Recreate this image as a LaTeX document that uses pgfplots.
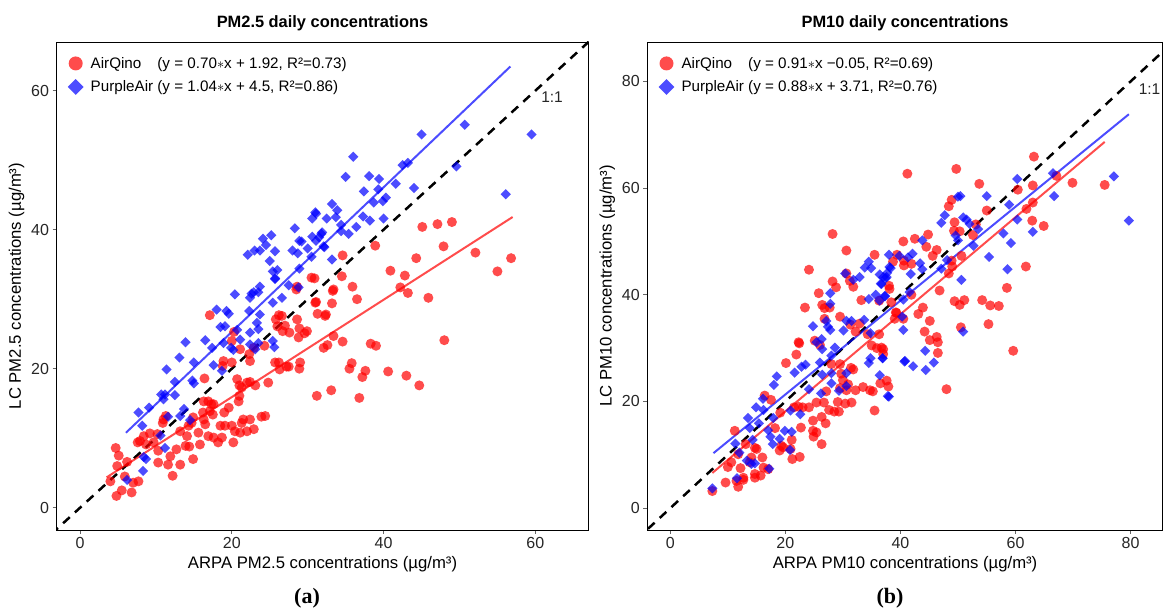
\documentclass[border=0pt]{standalone}
\usepackage{fontspec}
\setmainfont{Liberation Sans}
\newfontfamily\serifbf{Liberation Serif}
\usepackage{pgfplots}
\pgfplotsset{compat=1.18}

\pgfplotsset{
  lcaxis/.style={
    scale only axis, clip=true,
    axis line style={black, line width=0.8pt},
    tick align=outside, tick pos=left, major tick length=4pt,
    tick style={black!60, line width=0.8pt},
    /pgf/number format/assume math mode=true,
    ticklabel style={font=\fontsize{16}{19}\selectfont, text=black!85},
    label style={font=\fontsize{16.7}{20}\selectfont},
    xlabel style={yshift=-1pt},
    title style={font=\bfseries\fontsize{16.4}{20}\selectfont, yshift=2pt},
    legend style={at={(0,1)}, anchor=north west, draw=none, fill=none,
      font=\fontsize{15.2}{18}\selectfont, row sep=7pt, xshift=5pt, yshift=-11pt},
    legend cell align=left,
    legend image code/.code={
      \path[draw=none, fill=none] (0pt,-6pt) rectangle (24pt,6pt);
      \draw[##1] plot coordinates {(11pt,0pt)};},
  },
  aq/.style={only marks, mark=*, mark size=5pt,
    mark options={draw opacity=0, fill=red, fill opacity=0.7},
    legend image post style={mark size=7pt}},
  pa/.style={only marks, mark=square*, mark size=3.6pt,
    mark options={draw opacity=0, fill=blue, fill opacity=0.7, rotate=45},
    legend image post style={mark size=5.6pt}},
  aqline/.style={red, draw opacity=0.7, line width=2pt, forget plot},
  paline/.style={blue, draw opacity=0.7, line width=2pt, forget plot},
  oneline/.style={black, line width=2.5pt, dash pattern=on 9pt off 7pt, forget plot},
}

\begin{document}
\begin{tikzpicture}
\useasboundingbox (0,0) rectangle (1166pt,612pt);

% ---------- (a) PM2.5 ----------
\begin{axis}[lcaxis,
  at={(56.5pt,82pt)}, anchor=south west,
  width=532pt, height=488pt,
  xmin=-3.1, xmax=67, ymin=-3.2, ymax=67,
  xtick={0,20,40,60}, ytick={0,20,40,60},
  title={PM2.5 daily concentrations},
  xlabel={ARPA PM2.5 concentrations (µg/m³)},
  ylabel={LC PM2.5 concentrations (µg/m³)},
]
\addplot[oneline] coordinates {(-10,-10) (80,80)};
\addplot[aq] coordinates {
(4.7,8.6)(5.1,7.5)(4.9,6.0)(4.0,3.8)(4.8,1.7)(5.5,2.5)(5.9,4.5)(6.2,6.6)(6.8,2.2)(7.0,3.6)
(7.7,3.8)(7.9,9.6)(7.6,9.4)(8.4,10.3)(8.7,9.1)(9.7,9.4)(9.2,10.7)(10.3,6.5)(10.3,8.2)(10.9,12.2)
(11.0,12.7)(11.6,6.2)(12.2,4.6)(12.7,8.4)(11.9,7.4)(13.2,6.2)(13.9,8.9)(14.4,8.8)(14.9,7.0)(14.1,10.3)
(14.3,11.8)(14.7,12.2)(14.9,13.0)(15.6,10.8)(15.8,9.1)(16.3,12.7)(16.2,13.7)(16.5,12.0)(16.9,15.3)(17.3,14.9)
(17.1,13.9)(16.3,15.3)(17.6,14.9)(17.5,13.4)(16.9,10.3)(17.6,10.1)(18.2,9.4)(18.7,10.1)(18.5,11.8)(19.1,11.8)
(19.0,13.7)(19.6,14.4)(20.0,11.8)(20.2,9.4)(20.4,11.0)(21.1,10.8)(21.5,12.7)(20.9,15.3)(21.0,16.1)(21.3,12.2)
(22.0,11.0)(22.4,12.7)(22.9,11.3)(23.9,13.1)(20.7,18.5)(21.0,17.6)(21.3,17.3)(22.0,18.0)(22.4,18.1)(23.1,17.6)
(16.4,18.6)(17.1,27.7)(18.9,21.1)(18.8,20.4)(20.0,20.9)(20.0,24.0)(20.3,25.3)(21.1,22.8)(22.4,21.1)(22.3,22.1)
(22.9,23.0)(24.3,23.3)(24.8,18.0)(25.8,27.1)(26.2,27.7)(26.6,27.6)(26.0,26.1)(27.0,26.2)(26.7,25.4)(27.6,25.2)
(28.6,27.1)(28.8,24.5)(29.9,25.4)(31.1,29.6)(31.3,27.9)(32.4,27.8)(32.6,23.4)(33.4,24.7)(26.2,20.9)(26.3,19.9)
(25.7,20.9)(27.2,20.3)(27.5,20.3)(29.0,20.9)(31.2,16.1)(33.1,16.9)(24.4,13.2)(28.6,31.8)(33.4,31.4)(11.3,13.2)
(10.2,10.6)(13.2,11.0)(30.5,33.1)(30.9,33.0)(28.5,31.4)(33.3,31.2)
(45.1,40.4)(47.1,40.8)(49.0,41.1)(38.9,37.7)(47.9,37.6)(52.1,36.7)(56.8,35.9)(55.0,34.0)(34.6,36.3)(44.3,35.9)
(40.9,34.1)(42.8,33.4)(34.5,33.3)(35.9,31.8)(42.2,31.7)(43.2,30.9)(45.9,30.2)(36.5,30.0)(31.0,29.5)(33.2,29.4)
(32.3,27.6)(29.6,25.1)(28.9,25.8)(28.9,20.0)(32.1,23.0)(34.6,23.9)(38.3,23.6)(39.0,23.3)(48.0,24.1)(35.8,20.8)
(35.5,20.0)(37.6,19.7)(37.2,18.8)(40.6,19.6)(43.0,19.0)(44.7,17.6)(36.8,15.8)
};
\addlegendentry{\rlap{AirQino}\phantom{PurpleAir} (y = 0.70$\ast$x + 1.92, R²=0.73)}
\addplot[pa] coordinates {
(6.2,4.0)(8.3,5.3)(8.7,7.0)(8.4,7.3)(11.2,8.6)(10.6,10.4)(11.6,13.1)(13.2,13.2)(13.7,14.2)(14.5,12.6)
(8.2,11.8)(7.7,13.7)(9.1,14.4)(10.7,16.3)(11.2,16.3)(12.5,16.2)(11.0,15.6)(12.5,18.1)(11.4,19.9)(13.1,21.6)
(13.9,23.8)(15.0,20.9)(14.8,18.3)(15.0,17.9)(16.5,24.1)(17.4,23.0)(17.6,20.5)(18.0,28.5)(18.5,26.0)(18.7,19.7)
(18.9,23.7)(19.1,26.1)(19.3,28.3)(19.6,27.9)(19.9,23.0)(20.2,22.7)(20.4,30.7)(20.7,25.6)(21.1,24.2)(22.3,28.3)
(22.4,30.2)(22.6,30.8)(22.9,31.0)(23.5,31.0)(23.7,31.8)(23.3,26.6)(23.5,25.7)(23.7,27.8)(22.4,25.2)(22.4,23.5)
(23.1,22.8)(23.5,23.7)(25.4,29.5)(25.4,24.0)(25.6,23.1)(26.6,30.2)(27.5,32.0)(28.8,31.7)(25.7,32.9)
(22.1,36.4)(23.0,37.0)(23.7,37.0)(24.1,38.7)(24.5,37.8)(25.2,39.2)(25.0,35.5)(25.7,36.9)(25.4,34.0)(26.0,34.2)
(25.7,33.0)(28.0,37.0)(28.3,40.2)(28.7,36.6)(28.9,38.4)(28.9,34.4)(30.0,37.3)(30.5,36.1)(30.6,39.0)(30.6,41.6)
(31.1,42.3)(31.1,38.4)(31.8,39.4)(32.2,37.5)(32.5,41.6)(33.2,43.7)(33.2,35.7)(33.7,41.8)(33.9,42.8)
(36.0,50.5)(35.0,47.6)(38.1,47.7)(39.4,47.3)(42.5,49.3)(43.2,49.6)(41.6,46.6)(44.0,46.0)(39.3,45.8)(37.4,45.5)
(40.3,44.6)(39.9,44.1)(38.7,43.9)(31.0,42.5)(37.3,41.9)(38.2,41.3)(40.0,41.6)(34.4,40.7)(36.4,40.4)(34.4,39.8)
(35.4,39.4)(31.5,38.9)(31.9,39.6)(32.1,37.6)(29.2,38.3)(49.6,49.1)(56.1,45.1)(45.0,53.7)(50.7,55.1)(59.5,53.7)
};
\addlegendentry{PurpleAir (y = 1.04$\ast$x + 4.5, R²=0.86)}
\addplot[aqline] coordinates {(3.5,4.37) (57,41.82)};
\addplot[paline] coordinates {(6.05,10.79) (56.7,63.47)};
\node[font=\fontsize{15.5}{18}\selectfont, text=black!85] at (axis cs:62.2,59.1) {1:1};
\end{axis}
\node[font=\serifbf\bfseries\fontsize{22}{26}\selectfont] at (307pt,14pt) {(a)};

% ---------- (b) PM10 ----------
\begin{axis}[lcaxis,
  at={(647.3pt,82pt)}, anchor=south west,
  width=515.5pt, height=488pt,
  xmin=-4.0, xmax=85.6, ymin=-4.1, ymax=87.4,
  xtick={0,20,40,60,80}, ytick={0,20,40,60,80},
  title={PM10 daily concentrations},
  xlabel={ARPA PM10 concentrations (µg/m³)},
  ylabel={LC PM10 concentrations (µg/m³)},
]
\addplot[oneline] coordinates {(-10,-10) (100,100)};
\addplot[aq] coordinates {
(41.2,62.7)(28.2,51.4)(30.6,48.3)(24.1,44.7)(40.5,50.0)(35.5,47.5)(39.4,47.5)(38.7,46.2)(40.6,45.5)(30.6,44.0)
(28.2,42.5)(28.8,41.4)(31.2,42.6)(31.8,41.5)(25.8,40.3)(26.4,38.1)(26.8,37.5)(23.4,37.6)(27.7,37.6)(33.2,39.0)
(38.0,41.7)(38.1,41.1)(36.3,38.9)(38.4,38.6)(39.3,36.6)(40.5,35.5)(39.0,35.5)(29.5,35.9)(31.3,34.4)(32.2,33.1)
(32.9,34.6)(26.8,35.5)(25.1,31.4)(22.3,31.1)(36.3,32.6)(35.0,30.5)(36.7,30.1)
(7.3,3.2)(9.6,4.8)(11.8,4.0)(11.5,5.1)(10.0,7.7)(10.6,8.6)(12.2,7.5)(12.7,5.7)(11.8,10.1)(13.1,12.0)
(11.2,14.5)(14.7,11.3)(15.0,11.1)(14.1,9.5)(13.8,8.6)(14.7,6.4)(15.7,6.1)(14.7,5.7)(12.7,5.3)(16.0,9.5)
(16.2,7.6)(17.0,7.3)(18.2,15.0)(19.3,11.7)(19.6,11.4)(19.0,10.8)(21.1,12.8)(21.2,9.2)(22.5,9.6)(20.9,11.1)
(16.4,21.1)(17.5,20.3)(19.1,17.9)(20.1,27.2)(21.9,28.8)(22.4,30.9)(21.5,18.9)(22.3,19.0)(23.0,18.9)(24.1,18.9)
(22.7,15.1)(24.8,16.4)(25.4,19.8)(26.7,19.8)(26.3,17.1)(27.0,15.9)(24.8,14.5)(24.9,13.4)(25.4,14.2)(26.3,12.0)
(27.6,18.4)(28.5,18.1)(29.3,18.1)(27.1,21.9)(29.1,19.9)(30.4,19.6)(31.5,19.8)(26.0,30.6)(28.0,27.0)(29.5,27.0)
(29.7,25.2)(30.0,24.0)(29.5,22.5)(30.6,22.1)(30.9,23.2)(31.4,26.3)(31.8,26.0)(32.2,22.1)(33.5,22.7)(34.7,22.1)
(35.2,21.9)(35.9,30.0)(35.5,18.3)(36.5,23.4)(37.6,23.9)(37.9,22.8)(34.3,32.6)
(49.7,63.6)(63.2,65.9)(53.7,60.8)(48.9,57.8)(48.4,56.6)(63.0,60.5)(67.1,62.3)(69.9,61.0)(75.5,60.6)(55.0,55.8)
(60.4,59.7)(61.9,56.1)(62.9,53.9)(63.0,57.3)(64.9,52.9)(49.4,53.6)(49.3,52.0)(50.3,51.9)(53.1,53.2)(52.6,51.2)
(44.8,51.3)(42.5,50.5)(44.5,49.0)(46.3,48.4)(45.6,47.3)(41.9,45.8)(48.9,46.4)(49.0,45.3)(50.6,47.3)(48.4,44.0)
(61.8,45.3)(58.5,41.3)(49.4,38.8)(50.3,38.1)(51.1,39.0)(54.2,39.0)(55.6,38.0)(57.1,37.9)(46.8,40.8)(55.3,34.5)
(50.5,33.9)(59.6,29.5)(48.0,22.3)(41.9,40.0)(43.9,37.6)(43.1,36.4)(45.1,35.1)(44.2,33.1)(45.1,31.5)(46.3,32.1)
(46.5,31.1)(46.5,29.1)(39.2,36.7)(37.0,29.8)(37.0,28.9)(40.6,46.4)
};
\addlegendentry{\rlap{AirQino}\phantom{PurpleAir} (y = 0.91$\ast$x −0.05, R²=0.69)}
\addplot[pa] coordinates {
(30.4,44.0)(34.5,46.2)(33.8,45.1)(34.9,45.0)(38.0,47.5)(39.8,47.3)(41.3,47.0)(31.8,42.8)(32.9,43.3)(36.4,43.8)
(37.0,43.3)(37.7,44.1)(38.3,45.0)(37.4,43.1)(36.6,42.1)(27.8,40.3)(27.8,38.3)(24.8,34.1)(27.1,35.1)(27.4,34.0)
(27.8,33.4)(30.6,35.1)(31.5,35.1)(30.1,33.3)(34.5,39.2)(35.7,40.0)(36.4,38.9)(37.3,39.7)(33.7,35.3)(34.8,32.8)
(40.5,33.4)(40.3,35.9)(26.3,31.7)(25.4,31.1)(28.6,30.1)
(7.3,3.7)(11.6,5.6)(13.3,8.9)(14.1,8.3)(14.7,8.4)(12.0,10.4)(17.2,7.4)(11.3,12.1)(14.3,12.8)(13.5,16.9)
(13.8,15.0)(15.4,15.9)(14.9,18.9)(16.1,20.5)(16.2,18.4)(17.9,16.9)(17.0,14.6)(17.4,13.4)(17.8,12.0)(18.0,23.1)
(18.5,24.7)(19.9,14.5)(21.1,14.3)(19.0,13.0)(20.8,10.9)(20.9,18.3)(22.6,17.6)(21.6,25.4)(22.8,26.5)(23.5,26.9)
(24.1,22.3)(26.2,21.5)(26.0,27.3)(26.4,25.0)(28.0,28.6)(28.0,25.3)(28.0,23.4)(29.3,22.0)(30.6,25.3)(30.6,22.9)
(26.4,29.8)(34.5,27.2)(34.8,28.1)(36.9,28.1)(36.4,24.9)(37.8,21.0)(40.7,27.5)
(77.1,62.2)(79.7,53.9)(66.5,62.8)(60.3,61.7)(66.7,58.5)(58.9,56.9)(60.3,54.1)(63.0,51.8)(57.9,51.5)(59.2,49.7)
(55.0,58.5)(50.0,58.4)(50.4,58.5)(47.7,54.9)(47.1,53.5)(50.9,54.5)(51.5,54.1)(52.0,53.3)(53.5,52.3)(49.6,51.1)
(50.0,50.2)(52.7,49.2)(43.8,50.2)(55.4,47.1)(48.1,46.5)(47.1,44.9)(43.4,45.9)(43.8,44.8)(41.8,43.9)(42.1,47.7)
(38.1,45.2)(37.6,43.3)(36.7,42.0)(37.3,39.8)(58.6,44.8)(50.6,42.8)(41.6,40.5)(40.5,39.1)(50.9,33.1)(44.3,29.5)
(36.9,28.1)(40.8,27.6)(42.2,26.6)(44.4,25.9)(45.8,27.3)(38.0,20.9)
};
\addlegendentry{PurpleAir (y = 0.88$\ast$x + 3.71, R²=0.76)}
\addplot[aqline] coordinates {(7.3,6.59) (75.5,68.66)};
\addplot[paline] coordinates {(7.5,10.31) (79.7,73.85)};
\node[font=\fontsize{15.5}{18}\selectfont, text=black!85] at (axis cs:83.3,78.6) {1:1};
\end{axis}
\node[font=\serifbf\bfseries\fontsize{22}{26}\selectfont] at (890pt,14pt) {(b)};
\end{tikzpicture}
\end{document}
